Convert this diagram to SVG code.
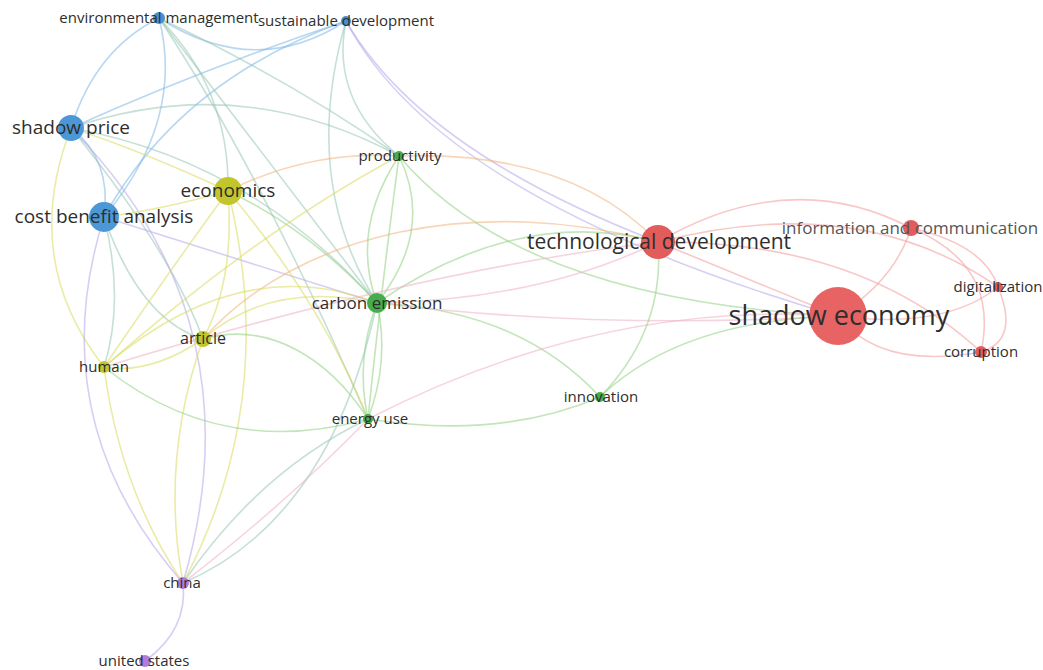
<svg xmlns="http://www.w3.org/2000/svg" width="1043" height="670" viewBox="0 0 1043 670">
<style>
.e{fill:none;stroke-opacity:.55;stroke-width:1.6}
.b{stroke:#7db6e6}.y{stroke:#d8da5c}.g{stroke:#8fd080}.r{stroke:#f29a9a}.p{stroke:#b6a6ea}.o{stroke:#f2b27c}.t{stroke:#97c6b4}.k{stroke:#efb0c4}
text{font-family:"Open Sans","Noto Sans","Liberation Sans",sans-serif;fill:#2e2e2e;text-anchor:middle}
.s{font-size:15px}
</style>
<rect width="1043" height="670" fill="#fff"/>
<g id="connectors">
<path class="e b" d="M159,18 Q95,50 71,128" stroke-width="3"/>
<path class="e b" d="M159,18 Q185,120 104,217" stroke-width="3"/>
<path class="e b" d="M159,18 Q255,80 346,21" stroke-width="2"/>
<path class="e b" d="M346,21 Q200,70 71,128" stroke-width="2.4"/>
<path class="e b" d="M346,21 Q180,80 104,217" stroke-width="2.4"/>
<path class="e b" d="M71,128 Q112,160 104,217" stroke-width="4.5"/>
<path class="e t" d="M71,128 Q240,70 399,156"/>
<path class="e t" d="M71,128 Q250,160 377,303" stroke-width="2.4"/>
<path class="e y" d="M71,128 Q20,260 104,367"/>
<path class="e t" d="M71,128 Q170,250 203,339"/>
<path class="e p" d="M71,128 Q260,320 183,583" stroke-width="1.2"/>
<path class="e p" d="M104,217 Q240,260 377,303" stroke-width="1.8"/>
<path class="e p" d="M104,217 Q40,420 183,583"/>
<path class="e t" d="M104,217 Q140,320 203,339"/>
<path class="e t" d="M104,217 Q125,300 104,367"/>
<path class="e t" d="M159,18 Q230,90 228,191"/>
<path class="e t" d="M159,18 Q260,150 377,303"/>
<path class="e t" d="M159,18 Q290,80 399,156"/>
<path class="e t" d="M159,18 Q260,170 368,419"/>
<path class="e t" d="M346,21 Q330,100 399,156"/>
<path class="e t" d="M346,21 Q300,180 377,303"/>
<path class="e p" d="M346,21 Q420,150 658,242"/>
<path class="e p" d="M346,21 Q440,200 838,316"/>
<path class="e o" d="M228,191 Q310,150 399,156" stroke-width="1.8"/>
<path class="e g" d="M228,191 Q310,230 377,303" stroke-width="2.4"/>
<path class="e y" d="M228,191 Q235,280 203,339" stroke-width="3"/>
<path class="e y" d="M228,191 Q170,270 104,367" stroke-width="1.8"/>
<path class="e y" d="M228,191 Q320,300 368,419"/>
<path class="e y" d="M228,191 Q280,400 183,583" stroke-width="1.2"/>
<path class="e y" d="M228,191 Q140,150 71,128"/>
<path class="e y" d="M228,191 Q160,210 104,217"/>
<path class="e y" d="M203,339 Q150,375 104,367" stroke-width="3"/>
<path class="e y" d="M203,339 Q270,280 377,303"/>
<path class="e o" d="M203,339 C300,230 480,195 658,242" stroke-width="1.8"/>
<path class="e g" d="M203,339 C270,320 330,360 368,419"/>
<path class="e y" d="M203,339 Q160,460 183,583" stroke-width="1.2"/>
<path class="e y" d="M104,367 Q240,250 377,303"/>
<path class="e g" d="M104,367 Q220,460 368,419" stroke-width="1.8"/>
<path class="e y" d="M104,367 Q120,490 183,583" stroke-width="1.2"/>
<path class="e y" d="M104,367 Q260,230 399,156"/>
<path class="e g" d="M399,156 Q350,230 377,303" stroke-width="1.8"/>
<path class="e g" d="M399,156 Q435,230 377,303"/>
<path class="e g" d="M399,156 Q380,300 368,419"/>
<path class="e g" d="M399,156 Q520,300 838,316"/>
<path class="e o" d="M399,156 Q570,150 658,242" stroke-width="1.8"/>
<path class="e g" d="M377,303 Q355,360 368,419" stroke-width="2.4"/>
<path class="e g" d="M377,303 Q390,360 368,419"/>
<path class="e g" d="M377,303 Q520,310 600,397"/>
<path class="e g" d="M377,303 Q520,205 658,242"/>
<path class="e k" d="M377,303 Q540,300 658,242" stroke-width="1.8"/>
<path class="e k" d="M377,303 Q600,330 838,316"/>
<path class="e g" d="M368,419 Q500,440 600,397"/>
<path class="e k" d="M368,419 Q600,300 838,316"/>
<path class="e t" d="M368,419 Q260,470 183,583"/>
<path class="e k" d="M368,419 Q290,500 183,583" stroke-width="1.2"/>
<path class="e t" d="M377,303 Q330,520 183,583" stroke-width="1.2"/>
<path class="e g" d="M600,397 Q665,330 658,242"/>
<path class="e g" d="M600,397 Q680,320 838,316"/>
<path class="e k" d="M104,367 Q420,270 658,242"/>
<path class="e r" d="M658,242 Q750,280 838,316" stroke-width="2.4"/>
<path class="e r" d="M658,242 Q790,165 911,228" stroke-width="1.8"/>
<path class="e r" d="M658,242 Q860,190 998,287"/>
<path class="e r" d="M658,242 Q860,240 981,352"/>
<path class="e r" d="M838,316 Q895,280 911,228" stroke-width="3.4"/>
<path class="e r" d="M838,316 Q945,330 998,287" stroke-width="1.8"/>
<path class="e r" d="M838,316 Q880,370 981,352" stroke-width="3.4"/>
<path class="e r" d="M911,228 Q985,245 998,287" stroke-width="1.8"/>
<path class="e r" d="M911,228 Q1000,265 981,352"/>
<path class="e r" d="M998,287 Q1020,340 981,352" stroke-width="2.4"/>
<path class="e p" d="M183,583 Q188,630 145,661"/>
</g>
<g id="nodes">
<g id="n-em"><circle cx="159" cy="18" r="6" fill="#4a90d0"/><text class="s" x="159" y="23">environmental management</text></g>
<g id="n-sd"><circle cx="346" cy="21" r="5" fill="#4a90d0"/><text class="s" x="346" y="26">sustainable development</text></g>
<g id="n-sp"><circle cx="71" cy="128" r="13" fill="#4c98d6"/><text x="71" y="134" font-size="19">shadow price</text></g>
<g id="n-ec"><circle cx="228" cy="191" r="14" fill="#c3c52c"/><text x="228" y="197" font-size="19">economics</text></g>
<g id="n-cba"><circle cx="104" cy="217" r="15" fill="#4c98d6"/><text x="104" y="223" font-size="19">cost benefit analysis</text></g>
<g id="n-pr"><circle cx="399" cy="156" r="5" fill="#46ad4a"/><text class="s" x="400" y="161">productivity</text></g>
<g id="n-td"><circle cx="658" cy="242" r="17" fill="#e25c5c"/><text x="659" y="249" font-size="21">technological development</text></g>
<g id="n-ic"><circle cx="911" cy="228" r="8" fill="#e25c5c"/><text x="910" y="234" font-size="17" style="fill:#555">information and communication</text></g>
<g id="n-dg"><circle cx="998" cy="287" r="5" fill="#e25c5c"/><text class="s" x="998" y="292">digitalization</text></g>
<g id="n-se"><circle cx="838" cy="316" r="29" fill="#e86464"/><text x="839" y="325" font-size="27">shadow economy</text></g>
<g id="n-co"><circle cx="981" cy="352" r="6" fill="#e25c5c"/><text class="s" x="981" y="357">corruption</text></g>
<g id="n-ce"><circle cx="377" cy="303" r="10" fill="#46ad4a"/><text x="377" y="309" font-size="17">carbon emission</text></g>
<g id="n-ar"><circle cx="203" cy="339" r="8" fill="#c3c52c"/><text x="203" y="344" font-size="16">article</text></g>
<g id="n-hu"><circle cx="104" cy="367" r="6" fill="#c3c52c"/><text class="s" x="104" y="372">human</text></g>
<g id="n-eu"><circle cx="368" cy="419" r="5" fill="#46ad4a"/><text class="s" x="370" y="424">energy use</text></g>
<g id="n-in"><circle cx="600" cy="397" r="5" fill="#46ad4a"/><text class="s" x="601" y="402">innovation</text></g>
<g id="n-ch"><circle cx="183" cy="583" r="6" fill="#b07ddc"/><text class="s" x="182" y="588">china</text></g>
<g id="n-us"><circle cx="145" cy="661" r="6" fill="#b07ddc"/><text class="s" x="144" y="666">united states</text></g>
</g>
</svg>
